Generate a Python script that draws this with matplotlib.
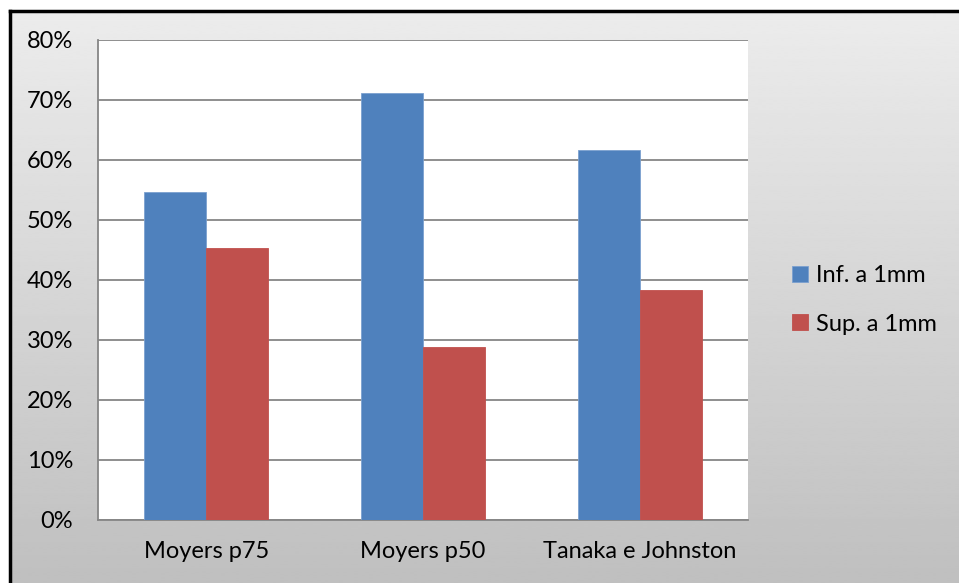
import numpy as np
import matplotlib.pyplot as plt
from matplotlib.ticker import PercentFormatter

categories = ["Moyers p75", "Moyers p50", "Tanaka e Johnston"]
inf_1mm = [54.7, 71.1, 61.6]
sup_1mm = [45.3, 28.9, 38.4]
series_names = ["Inf. a 1mm", "Sup. a 1mm"]
yticks = np.arange(0, 81, 10)

plt.rcParams['font.family'] = ['Lato', 'DejaVu Sans']

fig = plt.figure(figsize=(9.59, 5.83), dpi=100)

# grey gradient background with a black frame on the top and left
bg = fig.add_axes([10 / 959, 0, 949 / 959, 572 / 583])
grad = np.linspace(0.925, 0.75, 256).reshape(-1, 1)
bg.imshow(grad, aspect='auto', cmap='gray', vmin=0, vmax=1,
          extent=[0, 1, 0, 1], interpolation='bilinear')
bg.set_xlim(0, 1)
bg.set_ylim(0, 1)
bg.set_xticks([])
bg.set_yticks([])
for side in ['right', 'bottom']:
    bg.spines[side].set_visible(False)
for side in ['top', 'left']:
    bg.spines[side].set_linewidth(2.5)
    bg.spines[side].set_color('black')

ax = fig.add_axes([98 / 959, 63 / 583, 650 / 959, 480 / 583])
ax.set_facecolor('white')
x = np.arange(len(categories))
w = 0.286
ax.bar(x - w / 2, inf_1mm, w, color='#4F81BD', edgecolor='#7BA0CF',
       linewidth=0.6, label=series_names[0], zorder=3)
ax.bar(x + w / 2, sup_1mm, w, color='#C0504D', edgecolor='#C0504D',
       linewidth=0.6, label=series_names[1], zorder=3)

ax.set_xlim(-0.5, 2.5)
ax.set_ylim(0, 80)
ax.set_yticks(yticks)
ax.yaxis.set_major_formatter(PercentFormatter(decimals=0))
ax.set_xticks(x)
ax.set_xticklabels(categories)
ax.tick_params(length=0, labelsize=17, colors='black')
ax.tick_params(axis='x', pad=15)
ax.tick_params(axis='y', pad=18)
ax.grid(axis='y', color='#868686', linewidth=1.3, zorder=0)
for side in ['top', 'right']:
    ax.spines[side].set_visible(False)
for side in ['left', 'bottom']:
    ax.spines[side].set_color('#868686')
    ax.spines[side].set_linewidth(1.3)

fig.legend(loc='center left', bbox_to_anchor=(771 / 959, 1 - 300 / 583),
           frameon=False, fontsize=17, handlelength=0.65, handleheight=0.65,
           handletextpad=0.35, labelspacing=1.15)

fig.savefig('out.png', dpi=100)
